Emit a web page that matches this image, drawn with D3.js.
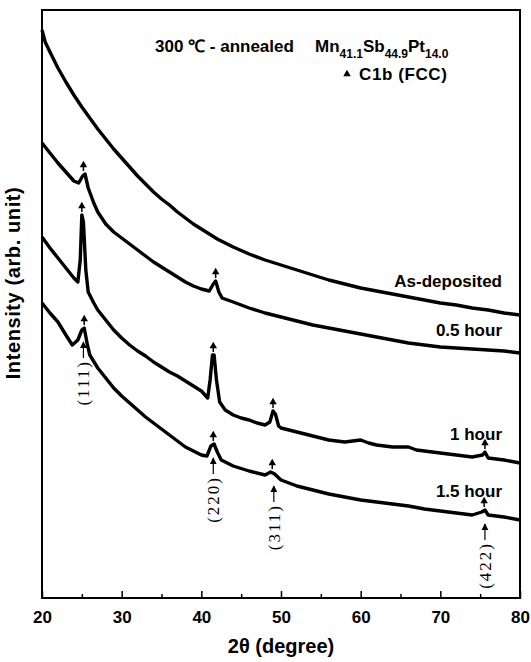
<!DOCTYPE html>
<html>
<head>
<meta charset="utf-8">
<script src="https://cdn.jsdelivr.net/npm/d3@7/dist/d3.min.js"></script>
<style>
  body { margin: 0; background: #fff; }
  svg { font-family: 'Liberation Sans', Arial, sans-serif; }
</style>
</head>
<body>
<div id="chart"></div>
<script>
// [2θ, intensity (arb. unit)]
const asDeposited = [
  [20, 568], [20.4, 556], [21, 546], [22, 530], [23, 516], [24, 503], [25, 491], [26, 480],
  [27, 469], [28, 459], [29, 449], [30, 440], [31, 431], [32, 422], [33, 414], [34, 406],
  [35, 399], [36, 393], [37, 386], [38, 380], [39, 374], [40, 369], [42, 359], [44, 351],
  [46, 344], [48, 338], [50, 333], [52, 328], [54, 323], [56, 318], [58, 314], [60, 310],
  [62, 307], [64, 304], [66, 301], [68, 298], [70, 295], [72, 293], [74, 290], [76, 288],
  [78, 285], [80, 283]
];
const halfHour = [
  [20, 455], [21, 445], [22, 435], [23, 426], [24, 417], [24.6, 415], [25.1, 422], [25.4, 424],
  [25.8, 410], [26.5, 395], [27, 386], [28, 374], [29, 366], [30, 360], [31, 354], [32, 348],
  [33, 342], [34, 336], [35, 331], [36, 326], [37, 321], [38, 316], [39, 312], [40, 309],
  [41, 307], [41.5, 314], [41.8, 317], [42.2, 306], [42.6, 300], [44, 296], [46, 290], [48, 285],
  [50, 281], [52, 277], [54, 273], [56, 270], [58, 267], [60, 264], [62, 261], [64, 258],
  [66, 255], [68, 253], [70, 251], [72, 250], [74, 249], [76, 248], [78, 247], [80, 245]
];
const oneHour = [
  [20, 361], [21, 350], [22, 340], [23, 330], [24, 320], [24.5, 316], [24.8, 338], [25.0, 383],
  [25.2, 376], [25.5, 328], [25.8, 306], [26.5, 295], [27, 288], [28, 278], [29, 268], [30, 260],
  [31, 253], [32, 247], [33, 242], [34, 236], [35, 231], [36, 226], [37, 222], [38, 217],
  [39, 212], [40, 207], [40.8, 200], [41.1, 218], [41.4, 243], [41.6, 243], [41.9, 218], [42.3, 196],
  [43, 188], [44, 183], [45, 180], [46, 178], [47, 175], [48, 173], [48.6, 176], [49, 187],
  [49.3, 184], [49.7, 172], [50, 170], [52, 166], [54, 162], [56, 158], [58, 156], [60, 158],
  [61, 155], [62, 153], [64, 151], [66, 151], [67, 148], [68, 147], [70, 145], [72, 143],
  [74, 141], [75.3, 143], [75.6, 146], [76, 140], [78, 138], [80, 135]
];
const oneHalfHour = [
  [20, 295], [21, 285], [22, 276], [23, 263], [23.8, 253], [24.5, 258], [25.0, 268], [25.3, 270],
  [25.7, 253], [26, 243], [27, 230], [28, 220], [29, 210], [30, 202], [31, 195], [32, 188],
  [33, 181], [34, 175], [35, 169], [36, 163], [37, 157], [38, 151], [39, 147], [40, 143],
  [40.7, 142], [41.2, 152], [41.6, 154], [42.0, 146], [42.5, 138], [44, 132], [46, 127], [48, 123],
  [48.7, 126], [49.2, 124], [50, 118], [52, 112], [54, 108], [56, 104], [58, 101], [60, 98],
  [62, 96], [64, 94], [66, 92], [68, 89], [70, 87], [72, 85], [74, 83], [75.2, 86],
  [75.6, 88], [76, 83], [78, 81], [80, 78]
];

const seriesNames = ['As-deposited', '0.5 hour', '1 hour', '1.5 hour'];

// C1b (FCC) reflections marked on each scan (2θ)
const halfHourPeaks = [25.2, 41.8];
const oneHourPeaks = [25.0, 41.5, 49.0, 75.6];
const oneHalfHourPeaks = [25.3, 41.5, 48.9, 75.5];

// Miller indices pointed at on the 1.5 hour scan
const hklLabels = ['(111)', '(220)', '(311)', '(422)'];
const hklAngles = [25.2, 41.5, 49.1, 75.6];

const majorTicks = [20, 30, 40, 50, 60, 70, 80];
const minorTicks = [25, 35, 45, 55, 65, 75];

// layout
const width = 531;
const height = 662;
const margin = { top: 10, right: 11, bottom: 64, left: 42 };
const labelLift = [28, 17, 23, 23];

const svg = d3.select('#chart').append('svg').attr('width', width).attr('height', height);

const x = d3.scaleLinear().domain([20, 80]).range([margin.left, width - margin.right]);
const y = d3.scaleLinear().domain([0, 588]).range([height - margin.bottom, margin.top]);

const allSeries = [asDeposited, halfHour, oneHour, oneHalfHour];
const allPeaks = [[], halfHourPeaks, oneHourPeaks, oneHalfHourPeaks];

// peak height near a given angle
function peakValue(series, angle) {
  const near = series.filter((d) => Math.abs(d[0] - angle) <= 0.45);
  return d3.max(near, (d) => d[1]);
}

const line = d3.line().x((d) => x(d[0])).y((d) => y(d[1]));

svg.append('g')
  .selectAll('path')
  .data(allSeries)
  .join('path')
  .attr('d', line)
  .attr('fill', 'none')
  .attr('stroke', '#000')
  .attr('stroke-width', 3.4)
  .attr('stroke-linejoin', 'round');

// triangle markers with a short stem
const tri = d3.symbol(d3.symbolTriangle).size(24);
allPeaks.forEach((peaks, i) => {
  peaks.forEach((p) => {
    const top = y(peakValue(allSeries[i], p));
    const g = svg.append('g').attr('transform', `translate(${x(p)},${top})`);
    g.append('line').attr('y1', -3).attr('y2', -8).attr('stroke', '#000').attr('stroke-width', 1.5);
    g.append('path').attr('d', tri).attr('transform', 'translate(0,-9)').attr('fill', '#000');
  });
});

// series labels
seriesNames.forEach((name, i) => {
  const last = allSeries[i][allSeries[i].length - 1];
  svg.append('text')
    .attr('x', 502)
    .attr('y', y(last[1]) - labelLift[i])
    .attr('text-anchor', 'end')
    .attr('font-size', 17)
    .attr('font-weight', 'bold')
    .text(name);
});

// hkl arrows and labels
svg.append('defs').append('marker')
  .attr('id', 'head')
  .attr('viewBox', '0 0 10 10')
  .attr('refX', 9).attr('refY', 5)
  .attr('markerWidth', 6).attr('markerHeight', 6)
  .attr('orient', 'auto')
  .append('path').attr('d', 'M0,0L10,5L0,10z').attr('fill', '#000');

hklLabels.forEach((lab, i) => {
  const a = hklAngles[i];
  const tip = y(peakValue(oneHalfHour, a)) + 14;
  svg.append('line')
    .attr('x1', x(a)).attr('x2', x(a))
    .attr('y1', tip + 16).attr('y2', tip)
    .attr('stroke', '#000').attr('stroke-width', 1.2)
    .attr('marker-end', 'url(#head)');
  svg.append('text')
    .attr('transform', `translate(${x(a) + 6},${tip + 18}) rotate(-90)`)
    .attr('text-anchor', 'end')
    .attr('font-family', "'Liberation Serif', 'Times New Roman', serif")
    .attr('font-size', 17)
    .attr('letter-spacing', 2)
    .text(lab);
});

// frame
svg.append('rect')
  .attr('x', margin.left).attr('y', margin.top)
  .attr('width', width - margin.left - margin.right)
  .attr('height', height - margin.top - margin.bottom)
  .attr('fill', 'none').attr('stroke', '#000').attr('stroke-width', 2);

// x axis, ticks pointing inward
const xAxis = svg.append('g')
  .attr('transform', `translate(0,${height - margin.bottom})`)
  .call(d3.axisBottom(x).tickValues(majorTicks).tickSize(-7).tickPadding(13).tickFormat(d3.format('d')));
xAxis.select('.domain').remove();
xAxis.selectAll('line').attr('stroke-width', 1.5);
xAxis.selectAll('text').attr('font-size', 17).attr('font-weight', 'bold').attr('font-family', "'Liberation Sans', Arial, sans-serif").attr('fill', '#000');

const xMinor = svg.append('g')
  .attr('transform', `translate(0,${height - margin.bottom})`)
  .call(d3.axisBottom(x).tickValues(minorTicks).tickSize(-4).tickFormat(''));
xMinor.select('.domain').remove();
xMinor.selectAll('line').attr('stroke-width', 1.5);

svg.append('text')
  .attr('x', (margin.left + width - margin.right) / 2)
  .attr('y', 653)
  .attr('text-anchor', 'middle')
  .attr('font-size', 20)
  .attr('font-weight', 'bold')
  .text('2θ (degree)');

svg.append('text')
  .attr('transform', 'translate(20,283) rotate(-90)')
  .attr('text-anchor', 'middle')
  .attr('font-size', 20)
  .attr('font-weight', 'bold')
  .attr('letter-spacing', 0.6)
  .text('Intensity (arb. unit)');

// title and legend
const title = svg.append('text').attr('x', 155).attr('y', 52).attr('font-size', 17).attr('font-weight', 'bold');
title.append('tspan').text('300 ℃ - annealed');
const formula = [['Mn', '41.1'], ['Sb', '44.9'], ['Pt', '14.0']];
formula.forEach((f, i) => {
  const t = title.append('tspan').text(f[0]);
  if (i === 0) t.attr('x', 315);
  else t.attr('dy', -6);
  title.append('tspan').attr('dy', 6).attr('font-size', 12).text(f[1]);
});

svg.append('path').attr('d', tri).attr('transform', 'translate(347,74)').attr('fill', '#000');
svg.append('text').attr('x', 359).attr('y', 80).attr('font-size', 17).attr('font-weight', 'bold').attr('letter-spacing', 0.6).text('C1b (FCC)');
</script>
</body>
</html>
